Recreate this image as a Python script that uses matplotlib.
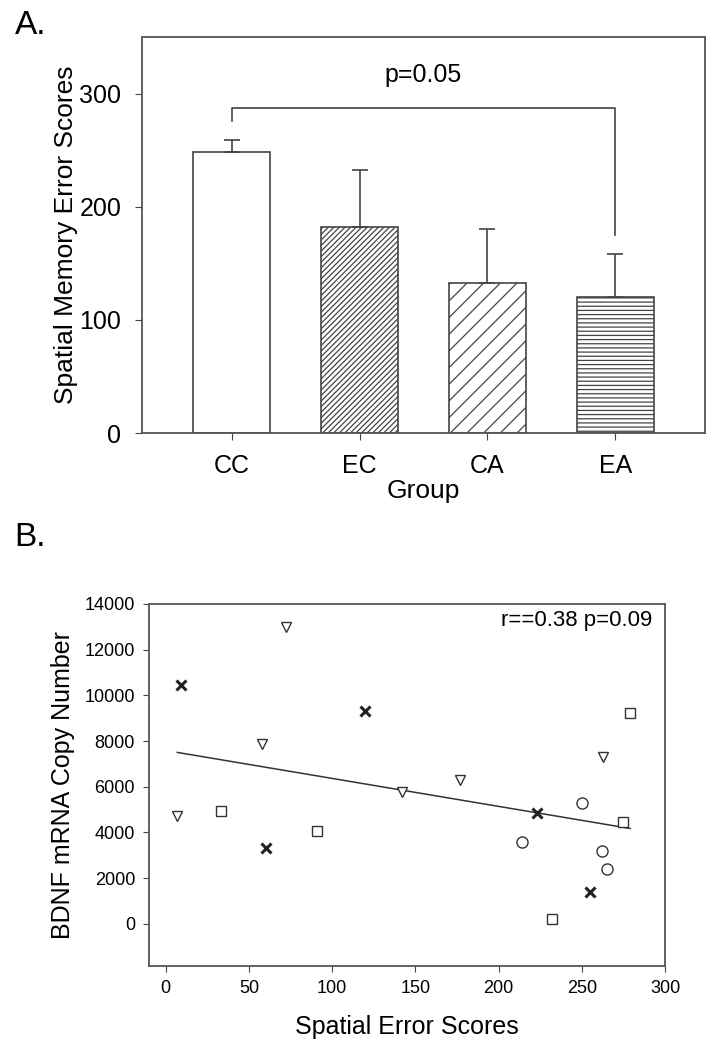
import matplotlib
matplotlib.use("Agg")
import matplotlib.pyplot as plt
import numpy as np

plt.rcParams['font.family'] = ['Liberation Sans', 'DejaVu Sans']
plt.rcParams['hatch.linewidth'] = 0.9

# panel A: group means with upper SEM
groups = ['CC', 'EC', 'CA', 'EA']
means = [248, 182, 133, 120]
errs = [11, 50, 47, 38]
hatches = ['', '//////', '//', '----']

# panel B: spatial error scores vs BDNF copy number, by group marker
tri_x = [7, 58, 72, 142, 177, 263]
tri_y = [4700, 7850, 13000, 5750, 6300, 7300]
cross_x = [9, 60, 120, 223, 255]
cross_y = [10450, 3300, 9330, 4830, 1400]
sq_x = [33, 91, 232, 275, 279]
sq_y = [4920, 4060, 190, 4450, 9240]
circ_x = [214, 250, 262, 265]
circ_y = [3580, 5270, 3190, 2390]

edge = '#444444'
fig = plt.figure(figsize=(7.23, 10.5), dpi=100)

# ---- A ----
ax = fig.add_axes([0.1964, 0.5876, 0.7787, 0.3772])
x = np.arange(len(groups))
ax.bar(x, means, width=0.6, color='white', edgecolor=edge, linewidth=1.2,
       hatch=hatches, zorder=2)
ax.errorbar(x, means, yerr=[np.zeros(len(errs)), errs], fmt='none',
            ecolor=edge, elinewidth=1.2, capsize=6, capthick=1.2, zorder=3)
# significance bracket CC vs EA
ax.plot([0, 0, 3, 3], [276, 287, 287, 175], color=edge, lw=1.2)
ax.text(1.5, 316, 'p=0.05', ha='center', va='center', fontsize=18)
ax.set_xlim(-0.7, 3.7)
ax.set_ylim(0, 350)
ax.set_yticks([0, 100, 200, 300])
ax.set_xticks(x)
ax.set_xticklabels(groups)
ax.tick_params(labelsize=18, direction='out', length=5, color=edge, pad=10)
ax.set_ylabel('Spatial Memory Error Scores', fontsize=19, labelpad=1)
ax.set_xlabel('Group', fontsize=19, labelpad=1)
for s in ax.spines.values():
    s.set_color('#555555')
    s.set_linewidth(1.3)
fig.text(0.042, 0.976, 'A.', fontsize=24, ha='center', va='center')

# ---- B ----
bx = fig.add_axes([0.2061, 0.08, 0.7137, 0.3448])
all_x = np.array(tri_x + cross_x + sq_x + circ_x, dtype=float)
all_y = np.array(tri_y + cross_y + sq_y + circ_y, dtype=float)
k, b = np.polyfit(all_x, all_y, 1)
xs = np.array([all_x.min(), all_x.max()])
bx.plot(xs, k * xs + b, color='#333333', lw=1.1)
ms = 7
bx.plot(tri_x, tri_y, 'v', ms=ms, mfc='white', mec='#333333', mew=1.0, ls='none')
bx.plot(cross_x, cross_y, 'x', ms=ms, mec='#222222', mew=2.2, ls='none')
bx.plot(sq_x, sq_y, 's', ms=ms, mfc='white', mec='#333333', mew=1.0, ls='none')
bx.plot(circ_x, circ_y, 'o', ms=8, mfc='white', mec='#333333', mew=1.0, ls='none')
bx.text(0.975, 0.955, 'r==0.38 p=0.09', transform=bx.transAxes,
        ha='right', va='center', fontsize=16)
bx.set_xlim(-10, 300)
bx.set_ylim(-1850, 14000)
bx.set_xticks(range(0, 301, 50))
bx.set_yticks(range(0, 14001, 2000))
bx.tick_params(labelsize=13, direction='out', length=4, color=edge, pad=6)
bx.set_ylabel('BDNF mRNA Copy Number', fontsize=18, labelpad=7)
bx.set_xlabel('Spatial Error Scores', fontsize=18, labelpad=13)
for s in bx.spines.values():
    s.set_color('#555555')
    s.set_linewidth(1.3)
fig.text(0.042, 0.488, 'B.', fontsize=24, ha='center', va='center')

fig.savefig('out.png', dpi=100)
